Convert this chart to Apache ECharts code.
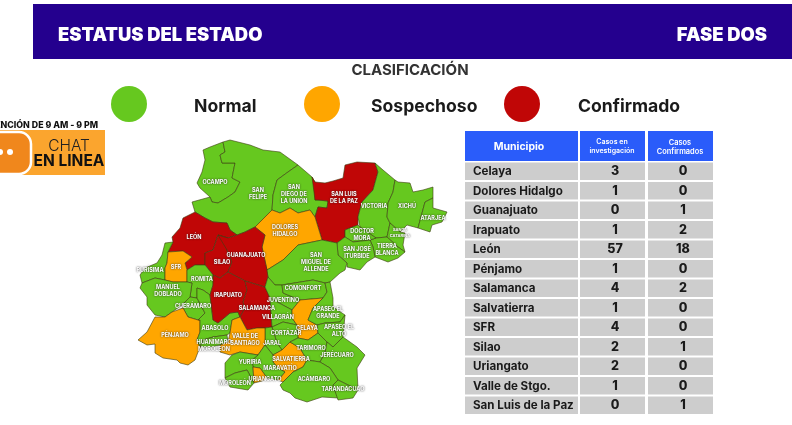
<!DOCTYPE html>
<html>
<head>
<meta charset="utf-8">
<style>
  html, body { margin: 0; padding: 0; background: #fff; }
  #chart { width: 792px; height: 425px; }
</style>
<script src="https://cdn.jsdelivr.net/npm/echarts@6/dist/echarts.min.js"></script>
</head>
<body>
<div id="chart"></div>
<script>
/* =================================
   Datos de la tabla
================================= */
var tablaMunicipios = ["Celaya", "Dolores Hidalgo", "Guanajuato", "Irapuato", "León", "Pénjamo", "Salamanca",
  "Salvatierra", "SFR", "Silao", "Uriangato", "Valle de Stgo.", "San Luis de la Paz"];
var casosInvestigacion = [3, 1, 0, 1, 57, 1, 4, 1, 4, 2, 2, 1, 0];
var casosConfirmados = [0, 0, 1, 2, 18, 0, 2, 0, 0, 1, 0, 0, 1];

var clases = ["Normal", "Sospechoso", "Confirmado"];
var coloresClase = ["#66c81f", "#ffa600", "#c00606"];

/* =================================
   Municipios: clase 0 normal, 1 sospechoso, 2 confirmado
================================= */
var municipios = ["Ocampo", "San Felipe", "San Diego", "San Luis", "Victoria", "Xichu", "Atarjea", "Santa Catarina",
  "Tierra Blanca", "Doctor Mora", "San Jose", "Dolores", "San Miguel", "Leon", "Purisima", "SFR", "Silao", "Guanajuato",
  "Romita", "Manuel Doblado", "Cueramaro", "Penjamo", "Abasolo", "Huanimaro", "Irapuato", "Salamanca", "Juventino",
  "Comonfort", "Villagran", "Celaya", "Apaseo Grande", "Apaseo Alto", "Cortazar", "Jaral", "Valle", "Salvatierra",
  "Tarimoro", "Jerecuaro", "Acambaro", "Tarandacuao", "Maravatio", "Yuriria", "Uriangato", "Moroleon"];
var clasesMunicipio = [0, 0, 0, 2, 0, 0, 0, 0, 0, 0, 0, 1, 0, 2, 0, 1, 2, 2, 0, 0, 0, 1, 0, 0, 2, 2, 0, 0, 0, 1, 0, 0, 0, 0, 1, 1, 0, 0, 0, 0, 0, 0, 1, 0];
var etiquetas = ["OCAMPO", "SAN\nFELIPE", "SAN\nDIEGO DE\nLA UNIÓN", "SAN LUIS\nDE LA PAZ", "VICTORIA", "XICHÚ", "ATARJEA", "SANTA\nCATARINA",
  "TIERRA\nBLANCA", "DOCTOR\nMORA", "SAN JOSÉ\nITURBIDE", "DOLORES\nHIDALGO", "SAN\nMIGUEL DE\nALLENDE", "LEÓN", "PURÍSIMA", "SFR", "SILAO", "GUANAJUATO",
  "ROMITA", "MANUEL\nDOBLADO", "CUERÁMARO", "PÉNJAMO", "ABASOLO", "HUANÍMARO\nMOROLEÓN", "IRAPUATO", "SALAMANCA", "JUVENTINO",
  "COMONFORT", "VILLAGRÁN", "CELAYA", "APASEO EL\nGRANDE", "APASEO EL\nALTO", "CORTÁZAR", "JARAL", "VALLE DE\nSANTIAGO", "SALVATIERRA",
  "TARIMORO", "JERÉCUARO", "ACÁMBARO", "TARANDACUAO", "MARAVATÍO", "YURIRIA", "URIANGATO", "MOROLEÓN"];
var centros = [[215,182],[258,194],[294,194],[344,198],[374,206],[407,206],[433,218],[400,233],
  [387,250],[362,235],[357,253],[285,231],[316,262],[194,237],[150,270],[176,267],[222,262],[246,255],
  [202,279],[168,291],[193,306],[175,335],[215,328],[214,346],[228,295],[257,308],[283,300],
  [303,288],[278,317],[307,328],[328,313],[339,331],[286,333],[272,343],[245,340],[291,359],
  [311,348],[337,355],[314,379],[343,389],[280,368],[250,362],[265,379],[235,383]];

// contornos, mismo orden que municipios
var contornos = [
  [[223,142],[210,147],[203,150],[205,160],[202,172],[197,183],[200,188],[210,197],[212,202],[218,203],[228,197],[235,192],[240,182],[232,178],[235,163],[222,163],[220,155],[225,152]],
  [[223,142],[230,140],[250,145],[263,150],[280,152],[298,165],[288,172],[277,180],[273,195],[272,210],[255,227],[245,232],[237,235],[230,230],[227,223],[213,222],[205,218],[195,212],[192,202],[210,197],[212,202],[218,203],[228,197],[235,192],[240,182],[232,178],[235,163],[222,163],[220,155],[225,152]],
  [[298,165],[312,177],[315,182],[315,200],[318,200],[328,201],[327,208],[318,207],[315,217],[310,210],[298,213],[290,208],[280,213],[272,210],[273,195],[277,180],[288,172]],
  [[312,177],[315,182],[325,183],[333,181],[343,178],[345,165],[357,162],[375,163],[378,172],[373,190],[362,202],[358,217],[358,225],[345,230],[345,237],[337,243],[322,240],[315,217],[318,207],[327,208],[328,201],[318,200],[315,200]],
  [[375,163],[383,170],[395,180],[393,192],[388,203],[387,217],[390,223],[387,237],[376,238],[360,227],[358,217],[362,202],[373,190],[378,172]],
  [[395,180],[398,182],[410,183],[413,192],[423,190],[433,187],[433,198],[425,202],[418,228],[407,225],[400,232],[390,223],[387,217],[388,203],[393,192]],
  [[433,198],[433,208],[447,212],[442,222],[432,225],[430,232],[418,228],[425,202]],
  [[390,223],[400,232],[405,233],[403,245],[405,252],[398,247],[387,237]],
  [[376,238],[387,237],[398,247],[405,252],[398,258],[388,262],[375,257],[373,247],[370,240]],
  [[345,230],[358,225],[360,227],[376,238],[370,240],[353,242],[345,237]],
  [[337,243],[345,237],[353,242],[370,240],[373,247],[375,257],[367,262],[360,270],[347,267],[347,263],[338,255]],
  [[255,227],[272,210],[280,213],[290,208],[298,213],[310,210],[315,217],[322,240],[298,245],[283,260],[267,270],[262,247],[265,235]],
  [[298,245],[322,240],[337,243],[338,255],[347,263],[345,270],[340,273],[330,282],[325,283],[313,280],[282,285],[275,285],[268,277],[265,265],[267,270],[283,260]],
  [[195,212],[205,218],[213,222],[227,223],[230,230],[237,235],[228,238],[218,235],[213,250],[205,253],[205,265],[195,265],[187,270],[185,263],[192,257],[183,251],[168,252],[173,242],[172,237],[180,228],[183,218]],
  [[173,242],[165,243],[162,255],[157,263],[145,268],[140,275],[142,283],[155,278],[165,280],[165,268],[167,263],[168,252]],
  [[168,252],[183,251],[192,257],[185,263],[187,270],[187,282],[173,282],[165,280],[165,268],[167,263]],
  [[218,235],[213,250],[205,253],[205,265],[213,275],[220,278],[228,272],[232,262],[227,250],[228,238]],
  [[218,235],[228,238],[237,235],[245,232],[255,227],[265,235],[262,247],[267,270],[268,277],[265,287],[245,281],[228,272],[232,262],[227,250]],
  [[195,265],[205,265],[213,275],[213,285],[210,295],[203,290],[197,288],[197,298],[190,297],[192,283],[187,282],[187,270]],
  [[142,283],[155,278],[165,280],[173,282],[187,282],[192,283],[190,297],[182,305],[172,312],[165,317],[155,315],[147,305],[147,297],[140,288]],
  [[190,297],[197,298],[205,313],[198,320],[188,317],[183,308],[182,305]],
  [[183,308],[188,317],[198,320],[200,320],[200,332],[197,340],[200,347],[198,352],[195,360],[188,365],[180,363],[177,360],[163,358],[155,353],[155,344],[147,345],[138,340],[147,332],[155,317],[165,317],[172,312]],
  [[197,288],[203,290],[210,295],[213,320],[218,323],[230,313],[238,312],[240,317],[232,320],[230,333],[227,335],[213,337],[203,340],[200,347],[197,340],[200,332],[200,320],[198,320],[205,313],[197,298]],
  [[203,340],[213,337],[227,335],[228,342],[220,345],[212,347],[200,347]],
  [[210,295],[213,285],[213,275],[220,278],[228,272],[245,281],[247,290],[243,302],[245,308],[240,317],[238,312],[230,313],[218,323],[213,320]],
  [[245,281],[265,287],[270,298],[272,327],[265,328],[257,328],[247,330],[240,317],[245,308],[243,302],[247,290]],
  [[265,287],[268,277],[275,285],[282,285],[283,293],[300,300],[292,310],[270,298]],
  [[282,285],[313,280],[325,283],[327,292],[323,298],[300,300],[283,293]],
  [[270,298],[292,310],[292,318],[297,325],[283,322],[272,327]],
  [[292,310],[300,300],[323,298],[313,308],[308,320],[317,325],[318,333],[308,340],[298,338],[297,325],[292,318]],
  [[325,283],[330,282],[333,298],[333,307],[345,315],[340,322],[325,323],[317,325],[308,320],[313,308],[323,298],[327,292]],
  [[318,333],[317,325],[325,323],[340,322],[345,315],[343,337],[333,347],[327,342]],
  [[272,327],[283,322],[297,325],[298,338],[290,342],[282,350],[277,343]],
  [[265,328],[272,327],[277,343],[282,350],[273,355],[265,345]],
  [[232,320],[240,317],[247,330],[257,328],[265,328],[265,345],[258,355],[240,352],[230,355],[220,352],[220,345],[228,342],[230,333]],
  [[273,355],[282,350],[290,342],[300,348],[307,360],[303,367],[293,372],[283,382],[278,380],[285,372],[278,368],[273,362]],
  [[298,338],[308,340],[318,333],[327,342],[325,353],[320,362],[307,360],[300,348],[290,342]],
  [[327,342],[333,347],[343,337],[357,347],[365,355],[357,368],[358,390],[338,380],[330,368],[320,362],[325,353]],
  [[307,360],[320,362],[330,368],[338,380],[333,385],[338,398],[322,397],[307,402],[295,398],[290,393],[283,390],[280,385],[283,382],[293,372],[303,367]],
  [[338,380],[358,390],[353,398],[338,400],[333,385]],
  [[258,355],[265,345],[273,355],[273,362],[278,368],[285,372],[278,380],[267,378],[260,368],[253,367],[252,360]],
  [[225,363],[232,355],[240,352],[258,355],[252,360],[253,367],[254,383],[247,370],[235,373],[225,378]],
  [[253,367],[260,368],[267,378],[262,381],[254,383]],
  [[225,378],[235,373],[247,370],[254,383],[248,390],[230,387]]
];

/* =================================
   Mapa
================================= */
var chart = echarts.init(document.getElementById("chart"));
var fuente = "Inter, 'Open Sans', sans-serif";

var features = municipios.map(function(nombre, i) {
  return {
    type: "Feature",
    properties: { name: nombre, cp: centros[i] },
    geometry: { type: "Polygon", coordinates: [contornos[i].concat([contornos[i][0]])] }
  };
});
echarts.registerMap("guanajuato", { type: "FeatureCollection", features: features });

var minX = Infinity, maxX = -Infinity, minY = Infinity, maxY = -Infinity;
contornos.forEach(function(c) {
  c.forEach(function(p) {
    minX = Math.min(minX, p[0]); maxX = Math.max(maxX, p[0]);
    minY = Math.min(minY, p[1]); maxY = Math.max(maxY, p[1]);
  });
});

/* =================================
   Encabezado, leyenda, chat y tabla
================================= */
var graficos = [];

function rect(x, y, w, h, color, r) {
  graficos.push({ type: "rect", silent: true, shape: { x: x, y: y, width: w, height: h, r: r || 0 }, style: { fill: color } });
}
function texto(t, x, y, size, weight, color, align) {
  graficos.push({
    type: "text", silent: true, x: x, y: y,
    style: { text: String(t), font: weight + " " + size + "px " + fuente, fill: color, align: align || "left", verticalAlign: "middle" }
  });
}

rect(33, 4, 759, 55, "#24008e");
texto("ESTATUS DEL ESTADO", 58, 35, 18.4, 900, "#fff");
texto("FASE DOS", 767, 35, 18.4, 900, "#fff", "right");
texto("CLASIFICACIÓN", 410, 70, 15, 700, "#333", "center");

var posCirculo = [129, 322, 522];
var posClase = [194, 371, 578];
clases.forEach(function(c, i) {
  graficos.push({ type: "circle", silent: true, shape: { cx: posCirculo[i], cy: 104, r: 18 }, style: { fill: coloresClase[i] } });
  texto(c, posClase[i], 106.5, 17.6, 700, "#1a1a1a");
});

// chat, cortado por el borde izquierdo
texto("ATENCIÓN DE 9 AM - 9 PM", 98, 125.5, 8.8, 800, "#111", "right");
rect(0, 130, 105, 45, "#fba52e");
graficos.push({ type: "rect", silent: true, shape: { x: -14, y: 132, width: 45, height: 42, r: 12 }, style: { fill: "#f0871c", stroke: "#fff", lineWidth: 2.5 } });
graficos.push({ type: "circle", silent: true, shape: { cx: 10, cy: 152, r: 3 }, style: { fill: "#fff" } });
graficos.push({ type: "circle", silent: true, shape: { cx: 0, cy: 152, r: 3 }, style: { fill: "#fff" } });
texto("CHAT", 69, 146, 15.5, 300, "#222", "center");
texto("EN LINEA", 69, 161, 15.5, 700, "#111", "center");

// tabla
var colX = [465, 580, 648];
var colW = [113, 65, 65];
colX.forEach(function(x, i) { rect(x, 131, colW[i], 30, "#2a5cfa"); });
texto("Municipio", 519, 147, 10.5, 700, "#fff", "center");
texto("Casos en", 612, 142, 7, 600, "#fff", "center");
texto("investigación", 612, 151, 7, 600, "#fff", "center");
texto("Casos", 680, 143, 7.4, 600, "#fff", "center");
texto("Confirmados", 680, 152, 7.4, 600, "#fff", "center");
tablaMunicipios.forEach(function(m, i) {
  var y = 162.5 + i * 19.5;
  colX.forEach(function(x, k) { rect(x, y, colW[k], 17.5, "#cdcdcd"); });
  texto(m, 473, y + 9.5, 11.6, 700, "#1a1a1a");
  texto(casosInvestigacion[i], 615, y + 9, 12.5, 800, "#1a1a1a", "center");
  texto(casosConfirmados[i], 683, y + 9, 12.5, 800, "#1a1a1a", "center");
});

chart.setOption({
  animation: false,
  backgroundColor: "#fff",
  graphic: { elements: graficos },
  series: [{
    type: "map",
    map: "guanajuato",
    silent: true,
    roam: false,
    left: minX,
    top: minY,
    width: maxX - minX,
    height: maxY - minY,
    projection: {
      project: function(p) { return p; },
      unproject: function(p) { return p; }
    },
    itemStyle: { borderColor: "#3c3c10", borderWidth: 0.6 },
    label: {
      show: true,
      color: "#fff",
      fontFamily: fuente,
      fontWeight: 700,
      fontSize: 5.5,
      lineHeight: 7,
      align: "center",
      textShadowColor: "#222",
      textShadowBlur: 2,
      formatter: function(p) { return etiquetas[municipios.indexOf(p.name)]; }
    },
    data: municipios.map(function(nombre, i) {
      var d = { name: nombre, value: clasesMunicipio[i], itemStyle: { areaColor: coloresClase[clasesMunicipio[i]] } };
      if (nombre === "Santa Catarina") d.label = { fontSize: 4, lineHeight: 5.5 };
      return d;
    })
  }]
});
</script>
</body>
</html>
